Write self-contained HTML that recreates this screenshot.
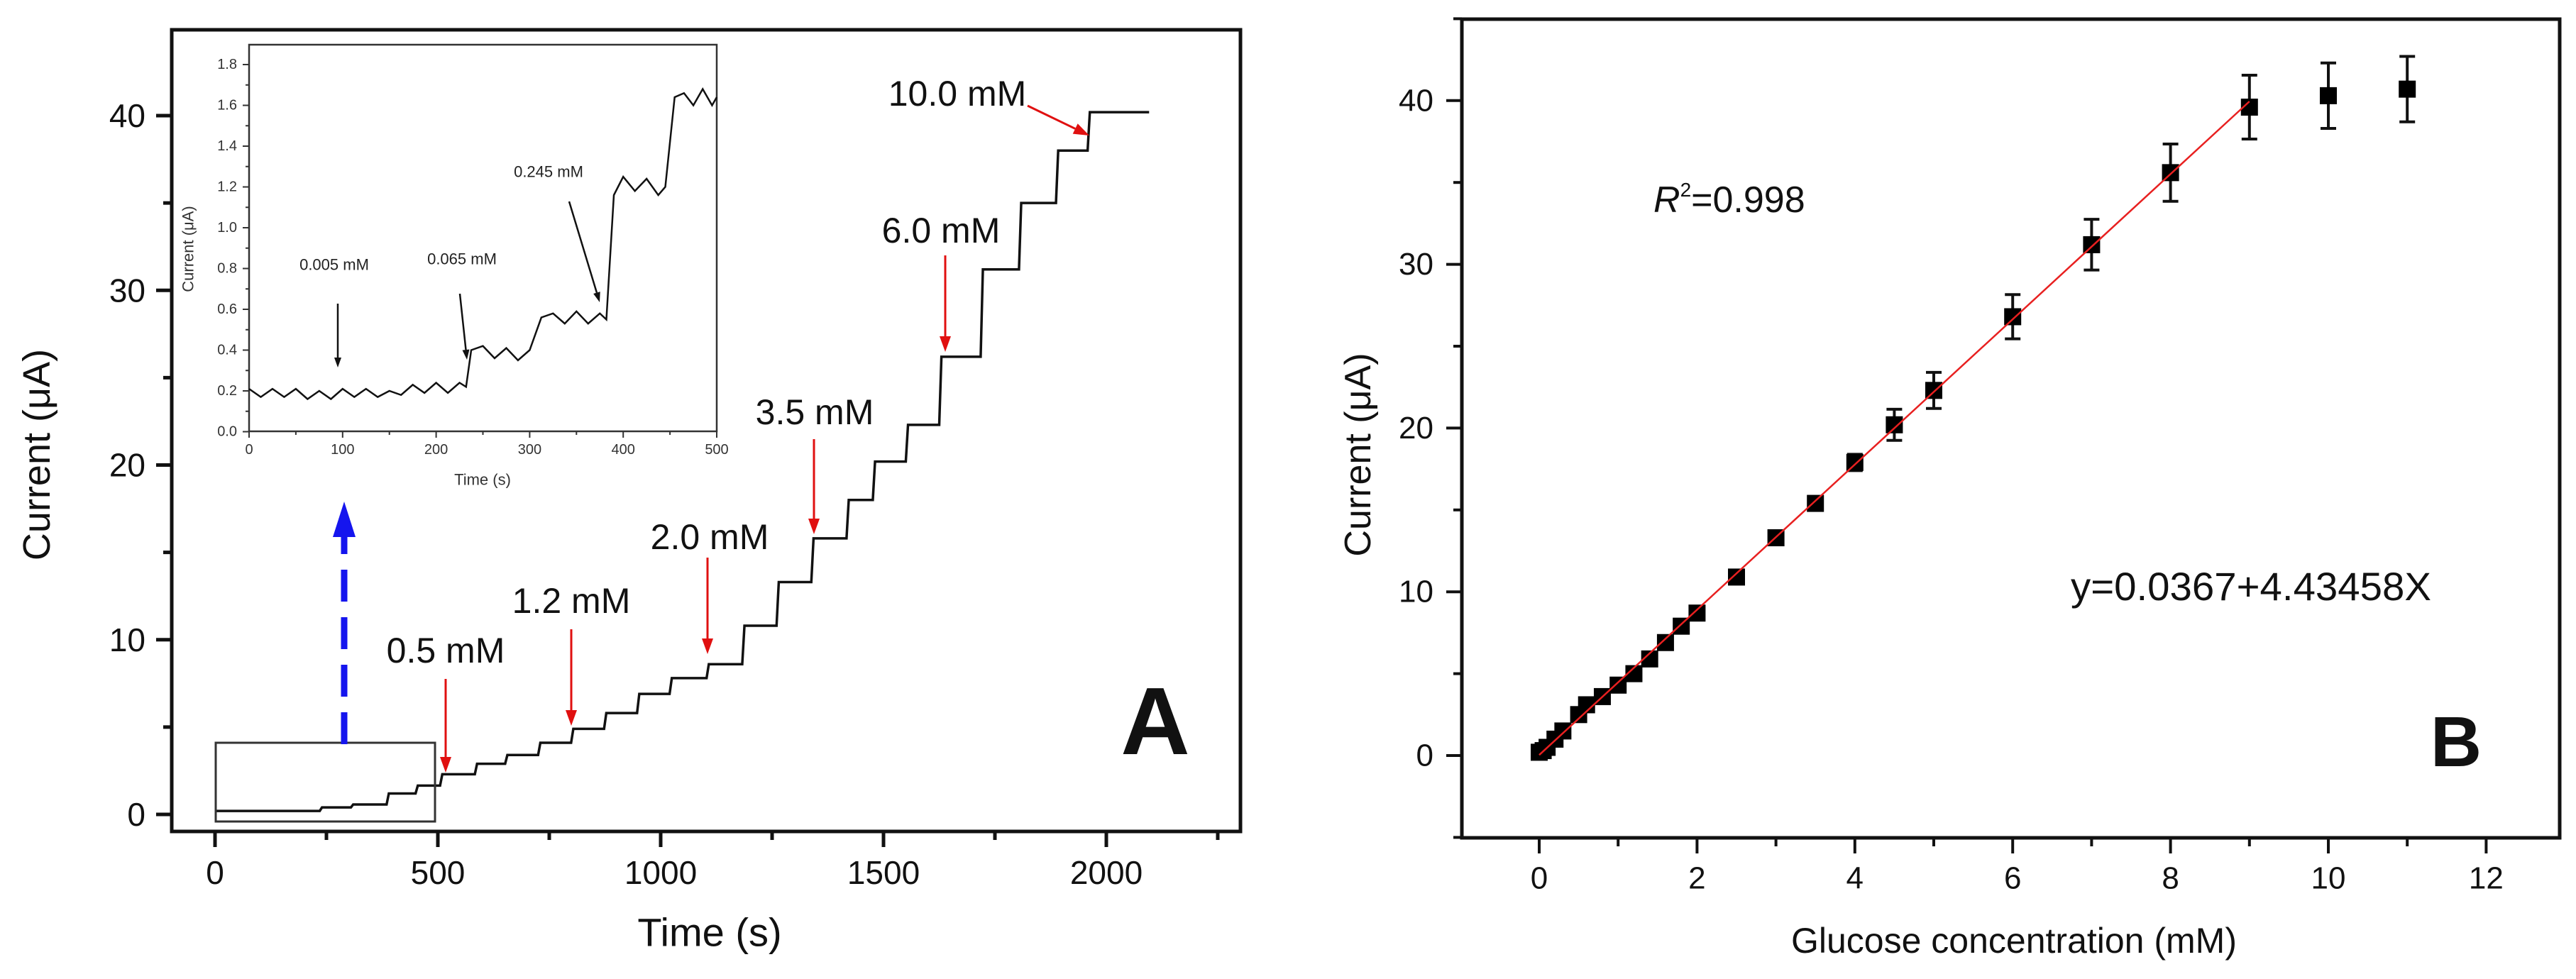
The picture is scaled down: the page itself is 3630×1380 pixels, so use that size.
<!DOCTYPE html>
<html><head><meta charset="utf-8"><style>
html,body{margin:0;padding:0;background:#fff;}
svg{display:block;font-family:"Liberation Sans",Arial,sans-serif;}
</style></head><body>
<svg id="fig" width="3630" height="1380" viewBox="0 0 3630 1380" xmlns="http://www.w3.org/2000/svg">
<rect width="3630" height="1380" fill="#fff"/>
<g id="pa"></g>
<g id="pb"></g>
</svg>
<script>
// ---- Panel A main trace data (time s, current µA step levels) ----
const stepTimes = [0,235,305,385,450,505,583,651,725,799,873,947,1020,1103,1183,1260,1338,1417,1476,1550,1625,1718,1804,1887,1958];
const stepLevels = [0.2,0.4,0.57,1.2,1.65,2.3,2.9,3.4,4.1,4.9,5.8,6.9,7.8,8.6,10.8,13.3,15.8,18.0,20.2,22.3,26.2,31.2,35.0,38.0,40.2];
const traceEnd = 2096;
const aXTicks = [0,500,1000,1500,2000];
const aYTicks = [0,10,20,30,40];
// ---- Inset data ----
const insetT = [0,12.5,25,37.5,50,62.5,75,87.5,100,112.5,125,137.5,150,162.5,175,187.5,200,212.5,225,232,237.5,250,262.5,275,287.5,300,312.5,325,337.5,350,362.5,375,382,390,400,412.5,425,437.5,445,455,465,475,485,495,500];
const insetV = [0.21,0.17,0.21,0.17,0.21,0.16,0.20,0.16,0.21,0.17,0.21,0.17,0.20,0.18,0.23,0.19,0.24,0.19,0.24,0.22,0.40,0.42,0.36,0.41,0.35,0.40,0.56,0.58,0.53,0.59,0.53,0.58,0.55,1.16,1.25,1.18,1.24,1.16,1.20,1.64,1.66,1.60,1.68,1.60,1.64];
const insetXTicks = [0,100,200,300,400,500];
const insetYTicks = [0.0,0.2,0.4,0.6,0.8,1.0,1.2,1.4,1.6,1.8];
// ---- Panel B data ----
const concs = [0,0.05,0.1,0.2,0.3,0.5,0.6,0.8,1.0,1.2,1.4,1.6,1.8,2.0,2.5,3.0,3.5,4.0,4.5,5.0,6,7,8,9,10,11];
const currents = [0.2,0.3,0.5,1.0,1.5,2.5,3.1,3.6,4.3,5.0,5.9,6.9,7.9,8.7,10.9,13.3,15.4,17.9,20.2,22.3,26.8,31.2,35.6,39.6,40.3,40.7];
const errs = [0.2,0.2,0.2,0.2,0.3,0.3,0.3,0.3,0.3,0.3,0.3,0.3,0.3,0.3,0.3,0.3,0.3,0.5,0.95,1.1,1.35,1.55,1.75,1.95,2.0,2.0];
const fitA = 0.0367, fitB = 4.43458, fitX0 = 0, fitX1 = 9;
const bXTicks = [0,2,4,6,8,10,12];
const bYTicks = [0,10,20,30,40];

const NS="http://www.w3.org/2000/svg";
function el(tag, attrs, parent){const e=document.createElementNS(NS,tag);for(const k in attrs)e.setAttribute(k,attrs[k]);parent.appendChild(e);return e;}
function txt(s, attrs, parent){const e=el('text',attrs,parent);e.textContent=s;return e;}

// ================= Panel A =================
const pa=document.getElementById('pa');
const ax=t=>303+(t)*0.628, ay=v=>1148-v*24.625;
let e;
e=el('rect',{x:242,y:42,width:1506,height:1130,fill:'none',stroke:'#111','stroke-width':5},pa);

for(let t=0;t<=2250;t+=250){const major=t%500===0;e=el('line',{x1:ax(t),x2:ax(t),y1:1172,y2:1172+(major?22:12),stroke:'#111','stroke-width':5},pa);
}
aXTicks.forEach(t=>{e=txt(String(t),{x:ax(t),y:1230,'font-size':46,'text-anchor':'middle','dominant-baseline':'central',fill:'#111'},pa);
});
for(let v=0;v<=40;v+=5){const major=v%10===0;e=el('line',{x1:242-(major?22:12),x2:242,y1:ay(v),y2:ay(v),stroke:'#111','stroke-width':5},pa);
}
aYTicks.forEach(v=>{e=txt(String(v),{x:205,y:ay(v),'font-size':46,'text-anchor':'end','dominant-baseline':'central',fill:'#111'},pa);
});
e=txt('Time (s)',{x:1000,y:1314,'font-size':56,'text-anchor':'middle','dominant-baseline':'central',fill:'#111'},pa);

e=txt('Current (μA)',{x:52,y:641,'font-size':54,'text-anchor':'middle','dominant-baseline':'central',fill:'#111',transform:'rotate(-90 52 641)'},pa);

let pts=[];
for(let i=0;i<stepTimes.length;i++){
  const t0=stepTimes[i], tEnd=(i+1<stepTimes.length)?stepTimes[i+1]:traceEnd;
  if(i>0) pts.push([ax(t0),ay(stepLevels[i-1])]);
  pts.push([ax(t0+(i>0?5:0)),ay(stepLevels[i])]);
  pts.push([ax(tEnd),ay(stepLevels[i])]);
}
e=el('polyline',{points:pts.map(p=>p.join(',')).join(' '),fill:'none',stroke:'#111','stroke-width':3.5},pa);

e=el('rect',{x:304,y:1047,width:309,height:111,fill:'none',stroke:'#333','stroke-width':3},pa);

e=el('line',{x1:485,y1:1049,x2:485,y2:752,stroke:'#1515ee','stroke-width':9,'stroke-dasharray':'45 22'},pa);

e=el('polygon',{points:'485,707 469,757 501,757',fill:'#1515ee'},pa);

const ann=[['0.5 mM',628,917,628,957,628,1089],['1.2 mM',805,847,805,887,805,1023],['2.0 mM',1000,757,997,786,997,922],['3.5 mM',1148,581,1147,619,1147,753],['6.0 mM',1326,325,1332,360,1332,496],['10.0 mM',1349,132,1448,149,1535,191]];
ann.forEach(a=>{
  e=txt(a[0],{x:a[1],y:a[2],'font-size':50,'text-anchor':'middle','dominant-baseline':'central',fill:'#111'},pa);
  
  const dx=a[5]-a[3],dy=a[6]-a[4],L=Math.hypot(dx,dy),ux=dx/L,uy=dy/L;
  const bx=a[5]-ux*22,by=a[6]-uy*22;
  e=el('line',{x1:a[3],y1:a[4],x2:bx,y2:by,stroke:'#e01010','stroke-width':3},pa);
  
  e=el('polygon',{points:`${a[5]},${a[6]} ${bx-uy*8},${by+ux*8} ${bx+uy*8},${by-ux*8}`,fill:'#e01010'},pa);
  
});
e=txt('A',{x:1628,y:1063,'font-size':135,'text-anchor':'middle',fill:'#111','font-weight':'bold'},pa);

const ix=t=>351+t*1.318, iy=v=>608.5-v*287.5;
e=el('rect',{x:351,y:63,width:659,height:545,fill:'#fff',stroke:'#333','stroke-width':2.5},pa);

for(let t=0;t<=500;t+=50){const major=t%100===0;e=el('line',{x1:ix(t),x2:ix(t),y1:608,y2:608+(major?9:5),stroke:'#333','stroke-width':2},pa);
}
insetXTicks.forEach(t=>{e=txt(String(t),{x:ix(t),y:634,'font-size':20,'text-anchor':'middle','dominant-baseline':'central',fill:'#333'},pa);
});
for(let k=0;k<=18;k++){const v=k*0.1;const major=k%2===0;e=el('line',{x1:351-(major?9:5),x2:351,y1:iy(v),y2:iy(v),stroke:'#333','stroke-width':2},pa);
}
insetYTicks.forEach(v=>{e=txt(v.toFixed(1),{x:334,y:iy(v),'font-size':20,'text-anchor':'end','dominant-baseline':'central',fill:'#333'},pa);
});
e=txt('Time (s)',{x:680,y:676,'font-size':22,'text-anchor':'middle','dominant-baseline':'central',fill:'#333'},pa);

e=txt('Current (μA)',{x:265,y:351,'font-size':22,'text-anchor':'middle','dominant-baseline':'central',fill:'#333',transform:'rotate(-90 265 351)'},pa);

e=el('polyline',{points:insetT.map((t,i)=>ix(t)+','+iy(insetV[i])).join(' '),fill:'none',stroke:'#111','stroke-width':2.5},pa);

const iann=[['0.005 mM',471,373,476,428,476,518],['0.065 mM',651,365,648,414,658,507],['0.245 mM',773,242,802,284,845,426]];
iann.forEach(a=>{
  e=txt(a[0],{x:a[1],y:a[2],'font-size':22,'text-anchor':'middle','dominant-baseline':'central',fill:'#222'},pa);
  
  const dx=a[5]-a[3],dy=a[6]-a[4],L=Math.hypot(dx,dy),ux=dx/L,uy=dy/L;
  const bx=a[5]-ux*14,by=a[6]-uy*14;
  e=el('line',{x1:a[3],y1:a[4],x2:bx,y2:by,stroke:'#111','stroke-width':2.5},pa);
  
  e=el('polygon',{points:`${a[5]},${a[6]} ${bx-uy*5},${by+ux*5} ${bx+uy*5},${by-ux*5}`,fill:'#111'},pa);
  
});

// ================= Panel B =================
const pb=document.getElementById('pb');
const bx=c=>2169+c*111.2, by=v=>1065-v*23.08;
e=el('rect',{x:2060,y:27,width:1547,height:1154,fill:'none',stroke:'#111','stroke-width':5},pb);

for(let c=0;c<=12;c+=1){const major=c%2===0;e=el('line',{x1:bx(c),x2:bx(c),y1:1181,y2:1181+(major?22:12),stroke:'#111','stroke-width':4},pb);
}
bXTicks.forEach(c=>{e=txt(String(c),{x:bx(c),y:1238,'font-size':44,'text-anchor':'middle','dominant-baseline':'central',fill:'#111'},pb);
});
for(let v=-5;v<=45;v+=5){const major=v%10===0;e=el('line',{x1:2060-(major?22:12),x2:2060,y1:by(v),y2:by(v),stroke:'#111','stroke-width':4},pb);
}
bYTicks.forEach(v=>{e=txt(String(v),{x:2020,y:by(v),'font-size':44,'text-anchor':'end','dominant-baseline':'central',fill:'#111'},pb);
});
e=txt('Glucose concentration (mM)',{x:2838,y:1326,'font-size':50,'text-anchor':'middle','dominant-baseline':'central',fill:'#111'},pb);

e=txt('Current (μA)',{x:1914,y:641,'font-size':52,'text-anchor':'middle','dominant-baseline':'central',fill:'#111',transform:'rotate(-90 1914 641)'},pb);

concs.forEach((c,i)=>{
  const x=bx(c),y=by(currents[i]),e1=by(currents[i]+errs[i]),e2=by(currents[i]-errs[i]);
  let g=el('line',{x1:x,x2:x,y1:e1,y2:e2,stroke:'#111','stroke-width':4},pb);
  
  g=el('line',{x1:x-11,x2:x+11,y1:e1,y2:e1,stroke:'#111','stroke-width':4},pb);
  
  g=el('line',{x1:x-11,x2:x+11,y1:e2,y2:e2,stroke:'#111','stroke-width':4},pb);
  
  g=el('rect',{x:x-12,y:y-12,width:24,height:24,fill:'#000'},pb);
  
});
e=el('line',{x1:bx(fitX0),y1:by(fitA+fitB*fitX0),x2:bx(fitX1),y2:by(fitA+fitB*fitX1),stroke:'#e82020','stroke-width':2.5},pb);

e=txt('',{x:2330,y:299,'font-size':52,fill:'#111'},pb);

e.innerHTML='<tspan font-style="italic">R</tspan><tspan font-size="28" dy="-22">2</tspan><tspan dy="22">=0.998</tspan>';
e=txt('y=0.0367+4.43458X',{x:2918,y:846,'font-size':56,fill:'#111',textLength:508,lengthAdjust:'spacingAndGlyphs'},pb);

e=txt('B',{x:3461,y:1080,'font-size':100,'text-anchor':'middle',fill:'#111','font-weight':'bold'},pb);

</script>
</body></html>
